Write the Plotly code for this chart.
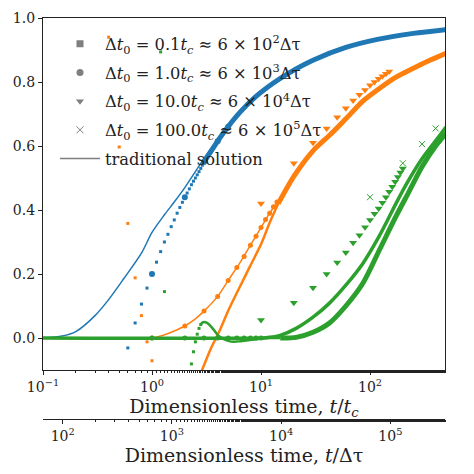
import plotly.graph_objects as go

# ---------------- data ----------------
# Blue: traditional solution
BLUE_LINE_T = [0.1, 0.15, 0.2, 0.3, 0.4, 0.55, 0.8, 1.0, 1.3, 1.6, 2.0, 2.5, 3.2, 4.5, 6.4, 9, 13, 18, 30, 60, 120, 250, 500]
BLUE_LINE_V = [0.0, 0.006, 0.02, 0.07, 0.12, 0.185, 0.265, 0.33, 0.385, 0.425, 0.47, 0.52, 0.575, 0.645, 0.71, 0.76, 0.80, 0.83, 0.87, 0.91, 0.935, 0.953, 0.965]
# Blue: dt0 = 0.1 (sparse early points, then dense band)
BLUE_SQ_T = [0.6, 0.7, 0.8, 0.9, 1.0, 1.1, 1.2, 1.3, 1.4, 1.5, 1.6, 1.7, 1.8, 1.9, 2.0, 2.1, 2.2, 2.3, 2.4, 2.5, 2.6, 2.7, 2.8, 2.9, 3.0]
BLUE_SQ_V = [-0.031, 0.047, 0.106, 0.156, 0.2, 0.237, 0.27, 0.30, 0.324, 0.348, 0.369, 0.39, 0.408, 0.424, 0.44, 0.453, 0.466, 0.479, 0.49, 0.50, 0.51, 0.52, 0.53, 0.54, 0.55]
BLUE_BAND_T = [3.0, 4.5, 6.4, 9, 13, 18, 30, 60, 120, 250, 500]
BLUE_BAND_V = [0.55, 0.64, 0.705, 0.755, 0.797, 0.828, 0.868, 0.908, 0.934, 0.952, 0.964]
# Blue: dt0 = 1.0 circles
BLUE_CI_T = [1, 2, 3, 4, 5]
BLUE_CI_V = [0.2, 0.44, 0.55, 0.615, 0.66]

# Orange: traditional solution
ORANGE_LINE_T = [0.1, 1.0, 1.3, 1.6, 2.0, 2.5, 3.0, 4.0, 5.0, 6.4, 8.0, 10, 12, 14.4, 20, 30, 43, 60, 86, 120, 173, 250, 350, 500]
ORANGE_LINE_V = [0.0, 0.0, 0.01, 0.022, 0.0375, 0.06, 0.084, 0.13, 0.18, 0.235, 0.29, 0.345, 0.39, 0.43, 0.51, 0.59, 0.64, 0.69, 0.744, 0.78, 0.817, 0.845, 0.869, 0.893]
# Orange: dt0 = 0.1
ORANGE_SQ_EARLY_T = [0.4, 0.5, 0.6, 0.7, 0.8, 0.9, 1.0]
ORANGE_SQ_EARLY_V = [0.94, 0.597, 0.358, 0.188, 0.07, -0.012, -0.071]
ORANGE_SQ_RISE_T = [2.8, 3.0, 3.5, 4.2, 5.0, 5.5, 6.4, 7.9, 10.1, 12, 14.4]
ORANGE_SQ_RISE_V = [-0.11, -0.085, -0.03, 0.025, 0.085, 0.115, 0.16, 0.223, 0.296, 0.36, 0.42]
ORANGE_SQ_BAND_T = [14.4, 20, 30, 43, 60, 86, 120, 173, 250, 350, 500]
ORANGE_SQ_BAND_V = [0.42, 0.505, 0.585, 0.635, 0.685, 0.74, 0.778, 0.815, 0.843, 0.867, 0.89]
# Orange: dt0 = 1.0 circles
ORANGE_CI_T = [1, 2, 3, 4, 5, 6, 7, 8, 9, 10, 11, 12, 13, 14]
ORANGE_CI_V = [0.0, 0.0375, 0.084, 0.13, 0.18, 0.22, 0.255, 0.29, 0.318, 0.345, 0.37, 0.39, 0.41, 0.425]
# Orange: dt0 = 10.0 triangles
ORANGE_TR_T = [10, 20, 30, 40, 50, 60, 70, 80, 90, 100, 110, 120, 130, 140, 150]
ORANGE_TR_V = [0.42, 0.546, 0.61, 0.655, 0.69, 0.718, 0.742, 0.76, 0.775, 0.79, 0.80, 0.81, 0.818, 0.826, 0.833]

# Green: traditional solution (with dt0 = 1.0 circles along it)
GREEN_LINE_T = [0.1, 10, 12, 15, 21, 30, 42.5, 60, 86, 120, 173, 215, 300, 430, 500]
GREEN_LINE_V = [0.0, 0.0, 0.002, 0.008, 0.03, 0.065, 0.109, 0.165, 0.233, 0.315, 0.42, 0.48, 0.56, 0.63, 0.66]
GREEN_CI_T = [1, 2, 3, 4, 5, 6, 7, 8, 9, 10]
GREEN_CI_V = [0, 0, 0, 0, 0, 0, 0, 0, 0, 0]
# Green: dt0 = 0.1
GREEN_SQ_EARLY_T = [1.2, 1.3, 2.3, 2.4, 2.5, 2.6, 2.7, 2.8]
GREEN_SQ_EARLY_V = [0.894, 0.145, -0.081, -0.043, -0.012, 0.012, 0.03, 0.042]
GREEN_SQ_HUMP_T = [2.8, 2.9, 3.0, 3.2, 3.5, 4.0, 4.5, 5.0, 5.6, 6.5, 7.9, 9.8, 12, 15]
GREEN_SQ_HUMP_V = [0.042, 0.048, 0.05, 0.047, 0.035, 0.01, -0.003, -0.009, -0.012, -0.01, -0.006, -0.002, 0.0, 0.0]
GREEN_SQ_BAND_T = [15, 21, 30, 42.5, 60, 86, 122, 173, 230, 300, 400, 500]
GREEN_SQ_BAND_V = [0.0, 0.002, 0.018, 0.047, 0.1, 0.171, 0.275, 0.38, 0.46, 0.535, 0.6, 0.64]
# Green: dt0 = 10.0 triangles
GREEN_TR_T = [10, 20, 30, 40, 50, 60, 70, 80, 90, 100, 110, 120, 130, 140, 150, 160, 170, 180, 190, 200]
GREEN_TR_V = [0.056, 0.11, 0.157, 0.2, 0.236, 0.267, 0.298, 0.321, 0.346, 0.369, 0.388, 0.405, 0.423, 0.44, 0.457, 0.473, 0.488, 0.503, 0.517, 0.53]
# Green: dt0 = 100.0 crosses
GREEN_X_T = [100, 200, 300, 400]
GREEN_X_V = [0.44, 0.546, 0.606, 0.655]

LEGEND_LABELS = [
    "Δ<i>t</i><sub>0</sub> = 0.1<i>t<sub>c</sub></i> ≈ 6 × 10<sup>2</sup>Δτ",
    "Δ<i>t</i><sub>0</sub> = 1.0<i>t<sub>c</sub></i> ≈ 6 × 10<sup>3</sup>Δτ",
    "Δ<i>t</i><sub>0</sub> = 10.0<i>t<sub>c</sub></i> ≈ 6 × 10<sup>4</sup>Δτ",
    "Δ<i>t</i><sub>0</sub> = 100.0<i>t<sub>c</sub></i> ≈ 6 × 10<sup>5</sup>Δτ",
    "traditional solution<sub>\u00a0</sub><sup>\u00a0</sup>",
]
X_TICKS = [0.1, 1, 10, 100]
X_TICK_TEXT = ["10<sup>−1</sup>", "10<sup>0</sup>", "10<sup>1</sup>", "10<sup>2</sup>"]
X2_TICKS = [1e2, 1e3, 1e4, 1e5]
X2_TICK_TEXT = ["10<sup>2</sup>", "10<sup>3</sup>", "10<sup>4</sup>", "10<sup>5</sup>"]
Y_TICKS = [0.0, 0.2, 0.4, 0.6, 0.8, 1.0]

# ---------------- styling ----------------
BLUE, ORANGE, GREEN, GREY = "#1f77b4", "#ff7f0e", "#2ca02c", "#7f7f7f"
FONT = "DejaVu Serif"

fig = go.Figure()

# legend proxies (grey)
legend_symbols = ["square", "circle", "triangle-down", "x-thin"]
for i, sym in enumerate(legend_symbols):
    mk = dict(symbol=sym, size=7, color=GREY)
    if sym == "x-thin":
        mk["line"] = dict(width=1, color=GREY)
    fig.add_trace(go.Scatter(x=[None], y=[None], mode="markers", marker=mk,
                             name=LEGEND_LABELS[i], legendgroup=str(i)))
fig.add_trace(go.Scatter(x=[None], y=[None], mode="lines", line=dict(color=GREY, width=1.5),
                         name=LEGEND_LABELS[4], legendgroup="4"))

def line(t, v, color, width):
    fig.add_trace(go.Scatter(x=t, y=v, mode="lines",
                             line=dict(color=color, width=width, shape="spline", smoothing=0.8),
                             showlegend=False, hoverinfo="skip"))

def marks(t, v, color, symbol, size):
    mk = dict(symbol=symbol, size=size, color=color)
    if symbol.startswith("x"):
        mk["line"] = dict(width=1, color=color)
    fig.add_trace(go.Scatter(x=t, y=v, mode="markers", marker=mk,
                             showlegend=False, hoverinfo="skip"))

# blue
line(BLUE_LINE_T, BLUE_LINE_V, BLUE, 1.5)
line(BLUE_BAND_T, BLUE_BAND_V, BLUE, 5)
marks(BLUE_SQ_T, BLUE_SQ_V, BLUE, "square", 3)
marks(BLUE_CI_T, BLUE_CI_V, BLUE, "circle", 6)
# orange
line(ORANGE_LINE_T, ORANGE_LINE_V, ORANGE, 1.5)
line(ORANGE_SQ_RISE_T, ORANGE_SQ_RISE_V, ORANGE, 2.5)
line(ORANGE_SQ_BAND_T, ORANGE_SQ_BAND_V, ORANGE, 5)
marks(ORANGE_SQ_EARLY_T, ORANGE_SQ_EARLY_V, ORANGE, "square", 3)
marks(ORANGE_CI_T, ORANGE_CI_V, ORANGE, "circle", 5)
marks(ORANGE_TR_T, ORANGE_TR_V, ORANGE, "triangle-down", 7)
# green
line(GREEN_LINE_T, GREEN_LINE_V, GREEN, 3.5)
line(GREEN_SQ_HUMP_T, GREEN_SQ_HUMP_V, GREEN, 2.5)
line(GREEN_SQ_BAND_T, GREEN_SQ_BAND_V, GREEN, 5)
marks(GREEN_SQ_EARLY_T, GREEN_SQ_EARLY_V, GREEN, "square", 3)
marks(GREEN_CI_T, GREEN_CI_V, GREEN, "circle", 5)
marks(GREEN_TR_T, GREEN_TR_V, GREEN, "triangle-down", 7)
marks(GREEN_X_T, GREEN_X_V, GREEN, "x-thin", 6)

# invisible trace so the secondary axis is created
fig.add_trace(go.Scatter(x=[1e3], y=[-5], xaxis="x2", mode="markers",
                         marker=dict(opacity=0), showlegend=False, hoverinfo="skip"))

# the page body adds an 8 px offset, so the figure is 466 px and margins are shifted
OFF = 8
W = H = 474 - OFF
ML, MT, MB = 43 - OFF, 18 - OFF, 0
MR = W - (445 - OFF)
ph = H - MT - MB
y_dom_bottom = (H - MB - (370 - OFF)) / ph
x2_pos = (H - MB - (419 - OFF)) / ph
pw = W - ML - MR

axis_common = dict(showline=True, linecolor="#222", linewidth=1.2, ticks="outside",
                   ticklen=4, tickwidth=1, tickcolor="#222", showgrid=False, zeroline=False,
                   automargin=False,
                   tickfont=dict(family=FONT, size=14, color="#222"))

fig.update_layout(
    width=W, height=H, margin=dict(l=ML, r=MR, t=MT, b=MB, autoexpand=False),
    paper_bgcolor="white", plot_bgcolor="white",
    font=dict(family=FONT, color="#222"),
    xaxis=dict(type="log", range=[-1, 2.688], tickvals=X_TICKS, ticktext=X_TICK_TEXT,
               mirror=True, anchor="y",
               minor=dict(ticks="outside", ticklen=2, tickcolor="#222", showgrid=False),
               title=dict(text="Dimensionless time, <i>t</i>/<i>t<sub>c</sub></i>",
                          font=dict(family=FONT, size=19, color="#222"), standoff=2),
               **axis_common),
    xaxis2=dict(type="log", range=[1.82, 5.5], tickvals=X2_TICKS, ticktext=X2_TICK_TEXT,
                overlaying="x", anchor="free", position=x2_pos, side="bottom",
                minor=dict(ticks="outside", ticklen=2, tickcolor="#222", showgrid=False),
                title=dict(text="Dimensionless time, <i>t</i>/Δτ",
                           font=dict(family=FONT, size=19, color="#222"), standoff=2),
                **axis_common),
    yaxis=dict(range=[-0.1, 1.0], tickvals=Y_TICKS, tickformat=".1f", mirror=True,
               domain=[y_dom_bottom, 1], **axis_common),
    legend=dict(x=(55 - OFF - ML) / pw, y=0.981, xanchor="left", yanchor="top",
                bgcolor="rgba(0,0,0,0)", borderwidth=0, itemwidth=40,
                traceorder="grouped", tracegroupgap=4.5,
                font=dict(family=FONT, size=16.3, color="#222")),
    showlegend=True,
)

fig.write_html("out.html")
